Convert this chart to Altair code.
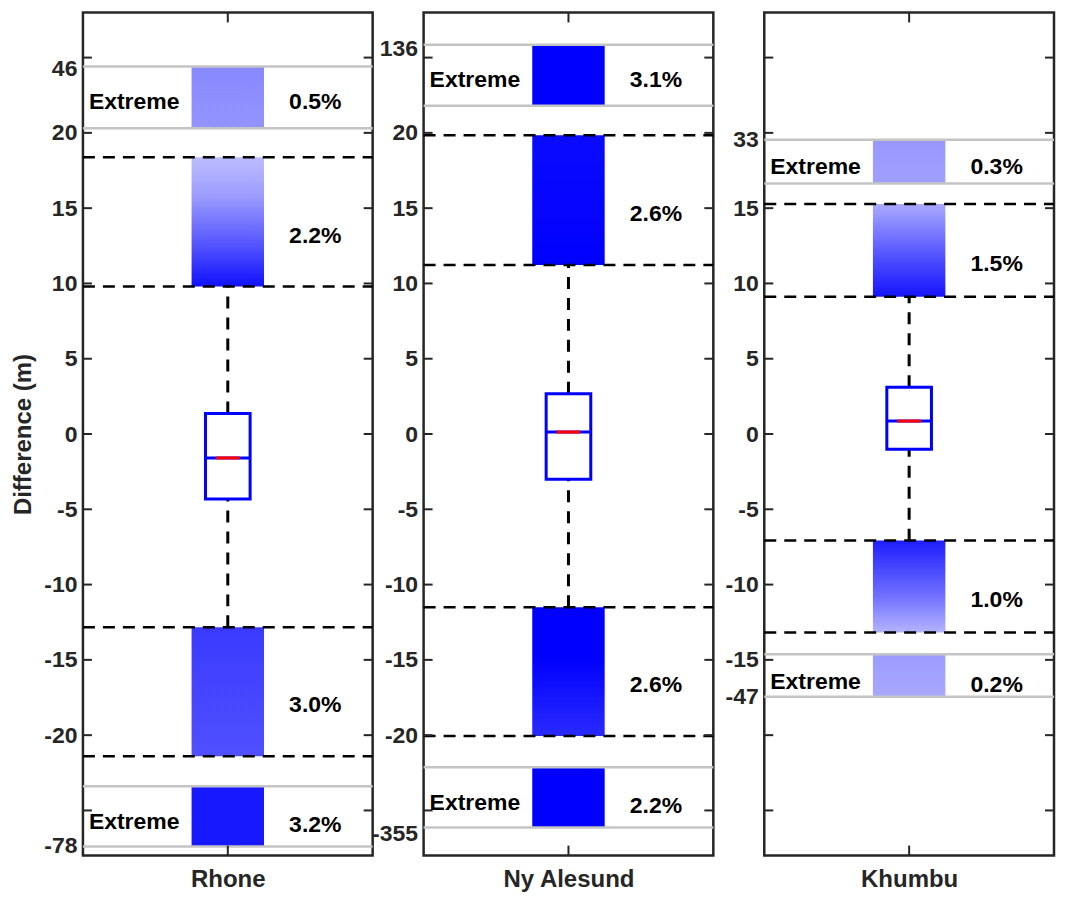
import altair as alt
import pandas as pd

# ---------------- data ----------------
names = ["Rhone", "Ny Alesund", "Khumbu"]
q1 = [-4.32, -3.00, -1.01]
median = [-1.59, 0.13, 0.86]
q3 = [1.37, 2.67, 3.11]
upper_fence = [9.80, 11.23, 9.11]
upper_max = [18.38, 19.84, 15.27]
lower_fence = [-12.84, -11.50, -7.08]
lower_min = [-21.40, -20.06, -13.19]
ext_up_lo = [20.30, 21.80, 16.64]
ext_up_hi = [24.40, 25.86, 19.55]
ext_dn_hi = [-23.40, -22.13, -14.63]
ext_dn_lo = [-27.40, -26.13, -17.45]
pct_up_ext = ["0.5%", "3.1%", "0.3%"]
pct_up = ["2.2%", "2.6%", "1.5%"]
pct_dn = ["3.0%", "2.6%", "1.0%"]
pct_dn_ext = ["3.2%", "2.2%", "0.2%"]
# axis labels
tick_values = [-25, -20, -15, -10, -5, 0, 5, 10, 15, 20, 25]
label_max = [20, 20, 15]
extra_up_label = ["46", "136", "33"]
extra_up_pos = [24.3, 25.6, 19.55]
extra_dn_label = ["-78", "-355", "-47"]
extra_dn_pos = [-27.34, -26.5, -17.45]

# ---------------- styles ----------------
W, H = 290, 844
SPACING = 51
FONT = "Liberation Sans"
AXC = "#262626"
YSC = alt.Scale(domain=[-28, 28], nice=False, zero=False)
XSC = alt.Scale(domain=[0.5, 1.5], nice=False, zero=False)
BAND_HALF = 0.125
BOX_HALF = 0.077
RED_HALF = 0.041
X_EXT = 0.677
X_PCT = 1.302

# gradient stops per panel: (bottom..top) for up_ext, up, dn, dn_ext
GRADS = [
    [[("#9494ff", 0), ("#8888ff", 1)],
     [("#1010ff", 0), ("#5050ff", 0.3), ("#9c9cff", 0.7), ("#bcbcff", 1)],
     [("#5050ff", 0), ("#3a3aff", 1)],
     [("#1818ff", 0), ("#1818ff", 1)]],
    [[("#0000ff", 0), ("#0000ff", 1)],
     [("#0000ff", 0), ("#0a0aff", 1)],
     [("#2a2aff", 0), ("#0000ff", 0.6), ("#0000ff", 1)],
     [("#0000ff", 0), ("#0000ff", 1)]],
    [[("#a0a0ff", 0), ("#9898ff", 1)],
     [("#1414ff", 0), ("#4c4cff", 0.4), ("#aaaaff", 1)],
     [("#b4b4ff", 0), ("#7070ff", 0.4), ("#1e1eff", 1)],
     [("#a8a8ff", 0), ("#9c9cff", 1)]],
]


def grad(stops):
    return alt.LinearGradient(
        gradient="linear", x1=0, y1=1, x2=0, y2=0,
        stops=[alt.GradientStop(color=c, offset=o) for c, o in stops])


def panel(i):
    row = dict(
        q1=q1[i], med=median[i], q3=q3[i],
        uf=upper_fence[i], umax=upper_max[i],
        lf=lower_fence[i], lmin=lower_min[i],
        eul=ext_up_lo[i], euh=ext_up_hi[i],
        edh=ext_dn_hi[i], edl=ext_dn_lo[i],
        p_ue=pct_up_ext[i], p_u=pct_up[i], p_d=pct_dn[i], p_de=pct_dn_ext[i],
        xc=1.0, xl=1 - BAND_HALF, xr=1 + BAND_HALF,
        bl=1 - BOX_HALF, br=1 + BOX_HALF,
        rl=1 - RED_HALF, rr=1 + RED_HALF,
    )
    row["m_ue"] = (row["eul"] + row["euh"]) / 2
    row["m_u"] = (row["uf"] + row["umax"]) / 2
    row["m_d"] = (row["lf"] + row["lmin"]) / 2
    row["m_de"] = (row["edh"] + row["edl"]) / 2
    df = pd.DataFrame([row])

    lm = label_max[i]
    up_v, up_l = extra_up_pos[i], extra_up_label[i]
    dn_v, dn_l = extra_dn_pos[i], extra_dn_label[i]
    axis_vals = [v for v in tick_values if abs(v) <= lm] + [up_v, dn_v]
    label_expr = (f"datum.value == {up_v} ? '{up_l}' : "
                  f"datum.value == {dn_v} ? '{dn_l}' : "
                  f"datum.value < 0 ? '-' + abs(datum.value) : datum.label")
    yaxis = alt.Axis(values=axis_vals, labelExpr=label_expr, ticks=False,
                     tickSize=0, domain=False, grid=False, labelOverlap=False,
                     labelFontSize=23, labelPadding=6,
                     title="Difference (m)" if i == 0 else "",
                     titleFontSize=24, titlePadding=8)
    xaxis = alt.Axis(values=[1], labelExpr=f"'{names[i]}'", ticks=False,
                     tickSize=0, domain=False, grid=False, title="",
                     labelFontSize=24, labelPadding=12)

    def Y(f):
        return alt.Y(f"{f}:Q", scale=YSC, axis=yaxis)

    def X(f):
        return alt.X(f"{f}:Q", scale=XSC, axis=xaxis)

    def XD(v):
        return alt.X(datum=v, type="quantitative", scale=XSC, axis=xaxis)

    layers = []
    # bands of points
    bands = [("eul", "euh"), ("uf", "umax"), ("lmin", "lf"), ("edl", "edh")]
    for k, (lo, hi) in enumerate(bands):
        layers.append(
            alt.Chart(df).mark_rect(color=grad(GRADS[i][k]), strokeWidth=0)
            .encode(x=X("xl"), x2="xr:Q", y=Y(lo), y2=f"{hi}:Q"))
    # grey lines for extreme section
    grey = pd.DataFrame({"v": [ext_up_lo[i], ext_up_hi[i], ext_dn_hi[i], ext_dn_lo[i]]})
    layers.append(alt.Chart(grey).mark_rule(color="#c4c4c4", strokeWidth=2.5)
                  .encode(y=Y("v"), x=alt.value(0), x2=alt.value(W)))
    # dashed fence lines
    dash = pd.DataFrame({"v": [upper_fence[i], upper_max[i], lower_fence[i], lower_min[i]]})
    layers.append(alt.Chart(dash).mark_rule(color="black", strokeWidth=2.5, strokeDash=[12, 8])
                  .encode(y=Y("v"), x=alt.value(0), x2=alt.value(W)))
    # whiskers
    layers.append(alt.Chart(df).mark_rule(color="black", strokeWidth=3, strokeDash=[12, 9])
                  .encode(x=X("xc"), y=Y("q3"), y2="uf:Q"))
    layers.append(alt.Chart(df).mark_rule(color="black", strokeWidth=3, strokeDash=[12, 9])
                  .encode(x=X("xc"), y=Y("lf"), y2="q1:Q"))
    # box
    layers.append(alt.Chart(df).mark_rect(fill="white", stroke="#0000ff", strokeWidth=3)
                  .encode(x=X("bl"), x2="br:Q", y=Y("q1"), y2="q3:Q"))
    layers.append(alt.Chart(df).mark_rule(color="#0000ff", strokeWidth=3)
                  .encode(x=X("bl"), x2="br:Q", y=Y("med")))
    layers.append(alt.Chart(df).mark_rule(color="#ff0000", strokeWidth=3)
                  .encode(x=X("rl"), x2="rr:Q", y=Y("med")))
    # inward ticks
    ticks = pd.DataFrame({"v": tick_values})
    layers.append(alt.Chart(ticks).mark_rule(color=AXC, strokeWidth=2)
                  .encode(y=Y("v"), x=alt.value(0), x2=alt.value(9)))
    layers.append(alt.Chart(ticks).mark_rule(color=AXC, strokeWidth=2)
                  .encode(y=Y("v"), x=alt.value(W - 9), x2=alt.value(W)))
    layers.append(alt.Chart(df).mark_rule(color=AXC, strokeWidth=2)
                  .encode(x=X("xc"), y=alt.value(0), y2=alt.value(10)))
    layers.append(alt.Chart(df).mark_rule(color=AXC, strokeWidth=2)
                  .encode(x=X("xc"), y=alt.value(H - 10), y2=alt.value(H)))
    # texts
    tstyle = dict(font=FONT, fontSize=23, fontWeight="bold", color="black",
                  align="center", baseline="middle")
    for fld, dy in [("m_ue", 5), ("m_de", 6)]:
        layers.append(alt.Chart(df).mark_text(dy=dy, **tstyle)
                      .encode(x=XD(X_EXT), y=Y(fld), text=alt.value("Extreme")))
    for fld, txt, dy in [("m_ue", "p_ue", 5), ("m_u", "p_u", 14),
                         ("m_d", "p_d", 13), ("m_de", "p_de", 9)]:
        layers.append(alt.Chart(df).mark_text(dy=dy, **tstyle)
                      .encode(x=XD(X_PCT), y=Y(fld), text=f"{txt}:N"))
    return alt.layer(*layers).properties(width=W, height=H)


chart = alt.hconcat(panel(0), panel(1), panel(2), spacing=SPACING, bounds="flush").properties(
    padding={"left": 2, "top": 1, "right": 0, "bottom": 0}
).configure_view(stroke=AXC, strokeWidth=2.5).configure_axis(
    labelFont=FONT, labelFontWeight="bold", labelColor=AXC,
    titleFont=FONT, titleFontWeight="bold", titleColor=AXC, titleFontSize=24)

chart.save("out.html", embed_options={"renderer": "svg", "actions": False})
